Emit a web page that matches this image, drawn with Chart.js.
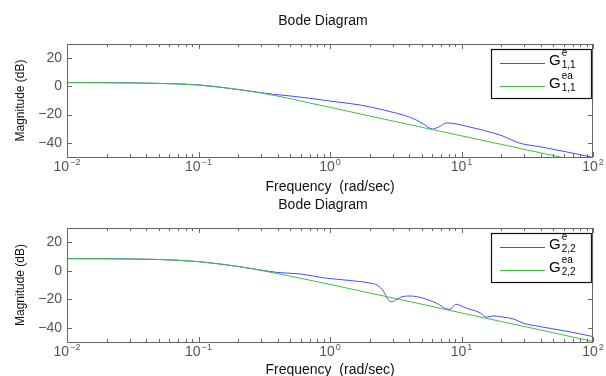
<!DOCTYPE html>
<html>
<head>
<meta charset="utf-8">
<script src="https://cdn.jsdelivr.net/npm/chart.js@4"></script>
<style>
  html, body { margin: 0; padding: 0; background: #fff; }
  #wrap { position: relative; width: 606px; height: 376px; overflow: hidden; background: #fff; }
  canvas { position: absolute; left: 0; }
</style>
</head>
<body>
<div id="wrap">
  <canvas id="top" width="606" height="196" style="top:0"></canvas>
  <canvas id="bot" width="606" height="189" style="top:190px"></canvas>
</div>
<script>
// frequencies (rad/sec) and magnitudes (dB)
const freqEa = [0.01, 0.02, 0.05, 0.1, 0.2, 0.3, 0.5, 0.7, 1, 2, 3, 5, 7, 10, 20, 30, 50, 70, 100];
const g11ea  = [2.7, 2.6, 2.1, 1.0, -2.2, -4.7, -8.7, -11.8, -14.8, -21.0, -24.5, -29.0, -31.9, -35.0, -41.0, -44.6, -49.0, -51.9, -55.0];
const g22ea  = [8.5, 8.4, 7.9, 6.4, 3.0, 0.2, -3.8, -6.6, -9.6, -15.6, -19.1, -23.5, -26.5, -29.6, -35.6, -39.1, -43.5, -46.5, -49.6];

const freq11e = [0.01, 0.02, 0.05, 0.1, 0.2, 0.3, 0.37, 0.5, 0.7, 1, 1.7, 2.5, 3.2, 4.1, 5.1, 6.0, 6.7, 7.7, 8.9, 11.6, 14.7, 20, 22.1, 25, 27.9, 39.5, 63, 100];
const g11e    = [2.7, 2.6, 2.1, 1.0, -2.2, -4.5, -5.6, -6.8, -8.4, -10.4, -13.2, -16.5, -19.0, -22.0, -26.4, -30.2, -28.8, -25.9, -26.4, -28.8, -31.1, -34.7, -36.3, -38.6, -40.3, -42.7, -46.4, -50.3];

const freq22e = [0.01, 0.02, 0.05, 0.1, 0.2, 0.28, 0.4, 0.6, 0.9, 1.4, 2.0, 2.3, 2.55, 2.78, 2.95, 3.15, 3.45, 4.06, 5.13, 6.48, 7.94, 8.42, 9.07, 10.9, 13.8, 15.5, 17.4, 21, 24.8, 29.5, 39.5, 59.4, 100];
const g22e    = [8.5, 8.4, 7.9, 6.4, 3.0, 0.9, -1.2, -2.3, -5.0, -6.8, -8.6, -10.2, -14.4, -20.5, -21.8, -20.6, -18.6, -17.7, -19.3, -22.8, -27.0, -26.3, -23.5, -26.3, -29.4, -32.6, -31.7, -32.6, -33.8, -36.8, -39.2, -42.0, -46.2];

const yTicks = [-40, -20, 0, 20];
const xPowers = [-2, -1, 0, 1, 2];

const FONT = "'Liberation Sans', Arial, Helvetica, sans-serif";
const BLUE = '#4b4bf4';
const GREEN = '#3fbf3f';

const pts = (fs, vs) => fs.map((f, i) => ({ x: f, y: vs[i] }));

// frame, inner ticks, x labels with exponents, title and the legend
const bodeFrame = {
  id: 'bodeFrame',
  afterDraw(chart, args, opts) {
    const ctx = chart.ctx;
    const ca = chart.chartArea;
    const xs = chart.scales.x, ys = chart.scales.y;
    ctx.save();

    ctx.strokeStyle = '#666';
    ctx.lineWidth = 1;
    ctx.strokeRect(Math.round(ca.left) + 0.5, Math.round(ca.top) + 0.5,
                   Math.round(ca.right - ca.left) - 1, Math.round(ca.bottom - ca.top));

    ctx.beginPath();
    for (let k = -2; k <= 2; k++) {
      for (let m = 1; m <= 9; m++) {
        const v = m * Math.pow(10, k);
        if (v > 100.0001) break;
        const px = Math.round(xs.getPixelForValue(v)) + 0.5;
        const len = m === 1 ? 5 : 3;
        ctx.moveTo(px, ca.bottom); ctx.lineTo(px, ca.bottom - len);
        ctx.moveTo(px, ca.top); ctx.lineTo(px, ca.top + len);
      }
    }
    yTicks.forEach(v => {
      const py = Math.round(ys.getPixelForValue(v)) + 0.5;
      ctx.moveTo(ca.left, py); ctx.lineTo(ca.left + 5, py);
      ctx.moveTo(ca.right, py); ctx.lineTo(ca.right - 5, py);
    });
    ctx.stroke();

    // 10^n labels
    ctx.fillStyle = '#555';
    ctx.textBaseline = 'alphabetic';
    ctx.textAlign = 'left';
    xPowers.forEach(p => {
      const px = xs.getPixelForValue(Math.pow(10, p));
      const ex = String(p).replace('-', '\u2212');
      ctx.font = '14px ' + FONT;
      const w1 = ctx.measureText('10').width;
      ctx.font = '9px ' + FONT;
      const w2 = ctx.measureText(ex).width;
      const x0 = px - (w1 + w2 + 1) / 2;
      ctx.font = '14px ' + FONT;
      ctx.fillText('10', x0, ca.bottom + 14);
      ctx.font = '9px ' + FONT;
      ctx.fillText(ex, x0 + w1 + 1, ca.bottom + 8);
    });

    // title
    ctx.fillStyle = '#111';
    ctx.textAlign = 'center';
    ctx.textBaseline = 'middle';
    ctx.font = '14px ' + FONT;
    ctx.fillText('Bode Diagram', (ca.left + ca.right) / 2 - 7, ca.top - 23);

    // legend
    const bw = 101, bh = 50;
    const bx = Math.round(ca.right) - bw - 1, by = Math.round(ca.top) + 5;
    ctx.fillStyle = '#fff';
    ctx.fillRect(bx, by, bw, bh);
    ctx.strokeStyle = '#111';
    ctx.lineWidth = 1.2;
    ctx.strokeRect(bx + 0.5, by + 0.5, bw - 1, bh - 1);
    const items = [
      { color: BLUE, sup: 'e', ly: 14 },
      { color: GREEN, sup: 'ea', ly: 37 }
    ];
    items.forEach(it => {
      ctx.strokeStyle = it.color;
      ctx.lineWidth = 1;
      ctx.beginPath();
      ctx.moveTo(bx + 9, by + it.ly + 0.5);
      ctx.lineTo(bx + 54, by + it.ly + 0.5);
      ctx.stroke();
      ctx.fillStyle = '#000';
      ctx.textAlign = 'left';
      ctx.textBaseline = 'alphabetic';
      ctx.font = '15px ' + FONT;
      const gx = bx + 58;
      ctx.fillText('G', gx, by + it.ly + 2);
      const gw = ctx.measureText('G').width;
      ctx.font = '10px ' + FONT;
      ctx.fillText(it.sup, gx + gw + 1, by + it.ly - 7);
      ctx.fillText(opts.sub, gx + gw + 1, by + it.ly + 5);
    });

    ctx.restore();
  }
};

function makeChart(id, fe, ve, fa, va, sub, areaTop, axisH) {
  return new Chart(document.getElementById(id), {
    type: 'line',
    data: {
      datasets: [
        { label: 'e', data: pts(fe, ve), borderColor: BLUE, borderWidth: 1, pointRadius: 0,
          cubicInterpolationMode: 'monotone', order: 1 },
        { label: 'ea', data: pts(fa, va), borderColor: GREEN, borderWidth: 1, pointRadius: 0,
          cubicInterpolationMode: 'monotone', order: 0 }
      ]
    },
    options: {
      responsive: false,
      animation: false,
      devicePixelRatio: 1,
      layout: { padding: { top: areaTop, right: 13, left: 0, bottom: 0 } },
      plugins: {
        legend: { display: false },
        tooltip: { enabled: false },
        bodeFrame: { sub: sub }
      },
      scales: {
        x: {
          type: 'logarithmic',
          min: 0.01,
          max: 100,
          grid: { display: false },
          border: { display: false },
          ticks: { display: false },
          afterFit: s => { s.height = axisH; },
          title: {
            display: true,
            text: 'Frequency  (rad/sec)',
            color: '#111',
            font: { family: FONT, size: 14 },
            padding: { top: 0, bottom: 0 }
          }
        },
        y: {
          min: -50,
          max: 30,
          grid: { display: false, drawTicks: false },
          border: { display: false },
          afterBuildTicks: s => { s.ticks = yTicks.map(v => ({ value: v })); },
          afterFit: s => { s.width = 67; },
          ticks: {
            color: '#555',
            padding: 5,
            font: { family: FONT, size: 14 },
            callback: v => String(v).replace('-', '\u2212')
          },
          title: {
            display: true,
            text: 'Magnitude (dB)',
            color: '#111',
            font: { family: FONT, size: 12 },
            padding: { top: 13, bottom: 0 }
          }
        }
      }
    },
    plugins: [bodeFrame]
  });
}

makeChart('top', freq11e, g11e, freqEa, g11ea, '1,1', 44, 39);
makeChart('bot', freq22e, g22e, freqEa, g22ea, '2,2', 38, 37);
</script>
</body>
</html>
